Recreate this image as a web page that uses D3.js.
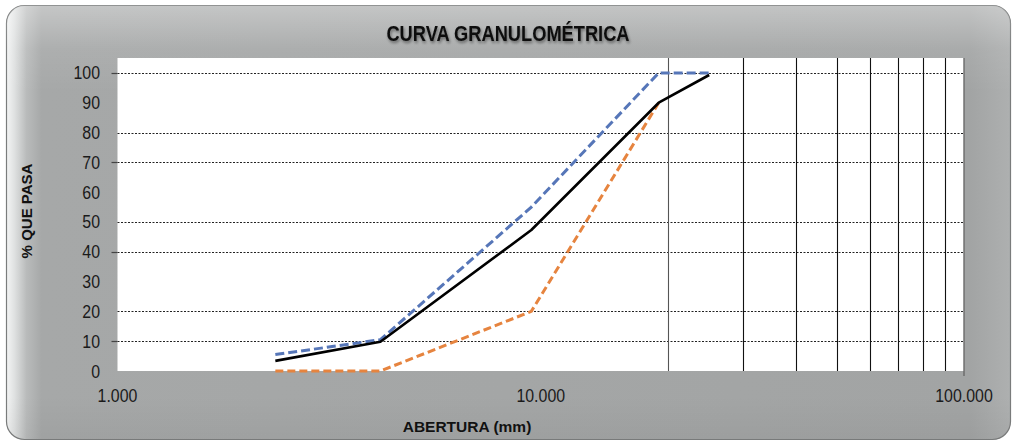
<!DOCTYPE html>
<html>
<head>
<meta charset="utf-8">
<script src="https://cdn.jsdelivr.net/npm/d3@7"></script>
<style>
html,body{margin:0;padding:0;background:#fff;}
svg{display:block;}
</style>
</head>
<body>
<svg id="chart" width="1015" height="443"></svg>
<script>
const title = "CURVA GRANULOMÉTRICA";
const xTitle = "ABERTURA (mm)";
const yTitle = "% QUE PASA";
const sieveSizes = [2.36, 4.18, 9.5, 19, 25];
const muestra = [3.4, 9.8, 47.3, 90, 99.3];
const limiteSuperior = [5.5, 10.5, 55, 100, 100];
const limiteInferior = [0, 0, 20, 90];
const xTickValues = [1, 10, 100];
const xTickLabels = ["1.000", "10.000", "100.000"];
const xGridValues = [20, 30, 40, 50, 60, 70, 80, 90];
const yTickValues = [0, 10, 20, 30, 40, 50, 60, 70, 80, 90, 100];
const yGridValues = [10, 20, 40, 50, 70, 80, 100];
const yTickMarks = [10, 40, 70, 100];

const svg = d3.select("#chart");
const defs = svg.append("defs");

const gH = defs.append("linearGradient").attr("id","gh").attr("x1","0").attr("x2","1").attr("y1","0").attr("y2","0");
[[0,"#f4f5f5"],[0.008,"#dfe1e1"],[0.02,"#b9bbbb"],[0.035,"#a6a8a8"],[0.96,"#a2a4a4"],[1,"#aeb0b0"]]
  .forEach(([o,c]) => gH.append("stop").attr("offset",o).attr("stop-color",c));
const gV = defs.append("linearGradient").attr("id","gv").attr("x1","0").attr("x2","0").attr("y1","0").attr("y2","1");
[[0,"#ffffff",0.35],[0.1,"#ffffff",0.08],[0.2,"#ffffff",0],[0.9,"#000000",0],[1,"#000000",0.04]]
  .forEach(([o,c,a]) => gV.append("stop").attr("offset",o).attr("stop-color",c).attr("stop-opacity",a));
const blur = defs.append("filter").attr("id","shadow").attr("x","-10%").attr("y","-30%").attr("width","120%").attr("height","160%");
blur.append("feGaussianBlur").attr("in","SourceAlpha").attr("stdDeviation",1.6).attr("result","b");
blur.append("feOffset").attr("in","b").attr("dx",1).attr("dy",1.5).attr("result","o");
blur.append("feComponentTransfer").attr("in","o").attr("result","o2")
  .append("feFuncA").attr("type","linear").attr("slope",0.45);
const merge = blur.append("feMerge");
merge.append("feMergeNode").attr("in","o2");
merge.append("feMergeNode").attr("in","SourceGraphic");

// panel
svg.append("rect").attr("x",6.5).attr("y",5.5).attr("width",1004).attr("height",434)
  .attr("rx",18).attr("fill","url(#gh)").attr("stroke","#7a7c7c").attr("stroke-width",1.2);
svg.append("rect").attr("x",6.5).attr("y",5.5).attr("width",1004).attr("height",434)
  .attr("rx",18).attr("fill","url(#gv)");

const x = d3.scaleLog().domain([1,100]).range([117.5,964]);
const y = d3.scaleLinear().domain([0,105]).range([371,58]);

// plot area
svg.append("rect").attr("x",x(1)).attr("y",y(105)).attr("width",x(100)-x(1)).attr("height",y(0)-y(105)).attr("fill","#fff");

// horizontal dotted gridlines
svg.append("g").selectAll("line").data(yGridValues).join("line")
  .attr("x1",x(1)).attr("x2",x(100)).attr("y1",d=>Math.round(y(d))+0.5).attr("y2",d=>Math.round(y(d))+0.5)
  .attr("stroke","#222").attr("stroke-width",1).attr("stroke-dasharray","2,1.5");

// vertical gridlines
svg.append("g").selectAll("line").data(xGridValues).join("line")
  .attr("x1",d=>Math.round(x(d))+0.5).attr("x2",d=>Math.round(x(d))+0.5).attr("y1",y(105)).attr("y2",y(0))
  .attr("stroke",(d,i)=> i===0 ? "#555" : "#111").attr("stroke-width",1.1);

// right border of plot
svg.append("line").attr("x1",x(100)).attr("x2",x(100)).attr("y1",y(105)).attr("y2",y(0)+5)
  .attr("stroke","#6a6a6a").attr("stroke-width",1.4);

// y tick marks
svg.append("g").selectAll("line").data(yTickMarks).join("line")
  .attr("x1",x(1)-6).attr("x2",x(1)).attr("y1",d=>Math.round(y(d))+0.5).attr("y2",d=>Math.round(y(d))+0.5)
  .attr("stroke","#444").attr("stroke-width",1.2);

const narrow = 0.86;
// y tick labels
svg.append("g").selectAll("text").data(yTickValues).join("text")
  .attr("transform",d=>`translate(100,${y(d)+6.5}) scale(${narrow},1)`).attr("text-anchor","end")
  .attr("font-family","'Liberation Sans',Arial,sans-serif").attr("font-size",18.5)
  .attr("fill","#1a1a1a").text(d=>d);

// x tick labels
svg.append("g").selectAll("text").data(xTickValues).join("text")
  .attr("transform",d=>`translate(${x(d)},402) scale(${narrow},1)`).attr("text-anchor","middle")
  .attr("font-family","'Liberation Sans',Arial,sans-serif").attr("font-size",18.5)
  .attr("fill","#1a1a1a").text((d,i)=>xTickLabels[i]);

// lines
const line = d3.line().x(d=>x(d[0])).y(d=>y(d[1]));
const lowPts = limiteInferior.map((v,i)=>[sieveSizes[i],v]);
const upPts = limiteSuperior.map((v,i)=>[sieveSizes[i],v]);
const mPts = muestra.map((v,i)=>[sieveSizes[i],v]);

svg.append("path").datum(lowPts).attr("d",line).attr("fill","none")
  .attr("stroke","#e6843f").attr("stroke-width",3).attr("stroke-dasharray","8,4");
svg.append("path").datum(upPts).attr("d",line).attr("fill","none")
  .attr("stroke","#5676b8").attr("stroke-width",3).attr("stroke-dasharray","9,4");
svg.append("path").datum(mPts).attr("d",line).attr("fill","none")
  .attr("stroke","#000").attr("stroke-width",2.6).attr("stroke-linejoin","round");

// titles
svg.append("text").attr("transform","translate(508,41) scale(0.85,1)").attr("text-anchor","middle")
  .attr("font-family","'Liberation Sans',Arial,sans-serif").attr("font-weight","bold")
  .attr("font-size",21.5).attr("fill","#0d0d0d").attr("filter","url(#shadow)").text(title);

svg.append("text").attr("x",467).attr("y",432).attr("text-anchor","middle")
  .attr("font-family","'Liberation Sans',Arial,sans-serif").attr("font-weight","bold")
  .attr("font-size",15.5).attr("fill","#111").text(xTitle);

svg.append("text").attr("transform","translate(32,211) rotate(-90)").attr("text-anchor","middle")
  .attr("font-family","'Liberation Sans',Arial,sans-serif").attr("font-weight","bold")
  .attr("font-size",15).attr("fill","#111").text(yTitle);
</script>
</body>
</html>
